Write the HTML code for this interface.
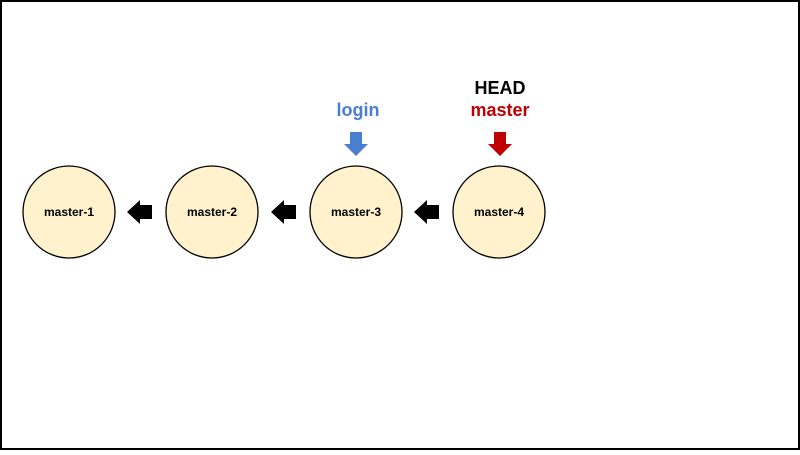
<!DOCTYPE html><html><head><style>
body{margin:0;width:800px;height:450px;overflow:hidden;background:#fff}
</style></head><body>
<svg width="800" height="450" xmlns="http://www.w3.org/2000/svg" font-family="Liberation Sans, sans-serif" font-weight="bold">
<rect x="1" y="1" width="798" height="448" fill="#fff" stroke="#000" stroke-width="2"/>
<g fill="#fff2cc" stroke="#000" stroke-width="1.3">
<circle cx="69" cy="212" r="46"/><circle cx="212" cy="212" r="46"/><circle cx="356" cy="212" r="46"/><circle cx="499" cy="212" r="46"/>
</g>
<g font-size="12" text-anchor="middle" fill="#000">
<text x="69" y="216">master-1</text><text x="212" y="216">master-2</text><text x="356" y="216">master-3</text><text x="499" y="216">master-4</text>
</g>
<g fill="#000">
<polygon points="127,212 140,200 140,205 152,205 152,219 140,219 140,224"/>
<polygon points="271,212 284,200 284,205 296,205 296,219 284,219 284,224"/>
<polygon points="414,212 427,200 427,205 439,205 439,219 427,219 427,224"/>
</g>
<polygon fill="#4a7fd0" points="350,132 362,132 362,144 368,144 356,156 344,144 350,144"/>
<polygon fill="#c00000" points="494,132 506,132 506,144 512,144 500,156 488,144 494,144"/>
<text x="358" y="116" font-size="18" text-anchor="middle" fill="#4a7fd0">login</text>
<text x="500" y="94" font-size="18" text-anchor="middle" fill="#000">HEAD</text>
<text x="500" y="116" font-size="18" text-anchor="middle" fill="#c00000">master</text>
</svg>
</body></html>
